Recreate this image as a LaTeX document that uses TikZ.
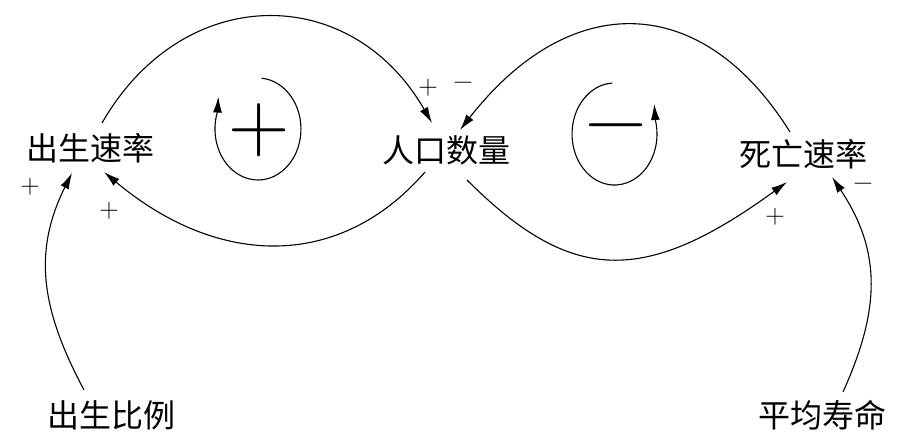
\documentclass[tikz,border=0pt]{standalone}
\usepackage{fontspec}
\newfontfamily\cjk{Noto Sans CJK SC}
\usetikzlibrary{arrows.meta}
\tikzset{
  var/.style={font=\cjk\fontsize{32}{34}\selectfont, inner sep=0pt},
  sgn/.style={font=\fontsize{27}{30}\selectfont, inner sep=0pt},
  bigsgn/.style={font=\fontsize{85}{90}\selectfont, inner sep=0pt},
  arr/.style={line width=1.1pt, -{Latex[length=16pt,width=9pt]}},
}
\begin{document}
\begin{tikzpicture}[x=1pt,y=-1pt]
\useasboundingbox (0,0) rectangle (900,443);
\node[var] (bs) at (91,148) {出生速率};
\node[var] (pop) at (446,150) {人口数量};
\node[var] (ds) at (803,154) {死亡速率};
\node[var] (bp) at (111,415) {出生比例};
\node[var] (al) at (822,415) {平均寿命};

% links
\draw[arr] ([shift={(11,-25)}]bs.center) .. controls +(81,-141) and +(-81,-141) .. ([shift={(-14,-27)}]pop.center);
\draw[arr] ([shift={(-21,22)}]pop.center) .. controls +(-84,97) and +(116,97) .. ([shift={(13,24)}]bs.center);
\draw[arr] ([shift={(-13,-22)}]ds.center) .. controls +(-88,-141) and +(110,-141) .. ([shift={(14,-20)}]pop.center);
\draw[arr] ([shift={(21,30)}]pop.center) .. controls +(104,104) and +(-143,104) .. ([shift={(-16,28)}]ds.center);
\draw[arr] ([shift={(-27,-25)}]bp.center) .. controls +(-42,-79) and +(-40,80) .. ([shift={(-19,25)}]bs.center);
\draw[arr] ([shift={(21,-23)}]al.center) .. controls +(37,-82) and +(50,75) .. ([shift={(29,23)}]ds.center);

% polarity labels
\node[sgn] (l1) at (428,88) {+};
\node[sgn] (l2) at (463,86) {−};
\node[sgn] (l3) at (109,211) {+};
\node[sgn] (l4) at (30,187) {+};
\node[sgn] (l5) at (775,217) {+};
\node[sgn] (l6) at (863,187) {−};

% loop markers
\draw[arr] (261.7,78.2) arc[start angle=-85,end angle=200,x radius=43,y radius=51] -- ++(0.8,-15);
\node[bigsgn] (rp) at (259,130) {+};
\draw[arr] (612.3,83.1) arc[start angle=-93,end angle=-376,x radius=42.5,y radius=51] -- ++(-1.2,-16);
\node[bigsgn] (bn) at (616,135) {−};
\end{tikzpicture}
\end{document}
